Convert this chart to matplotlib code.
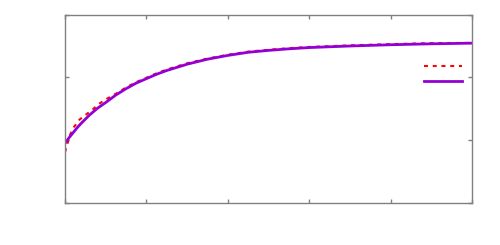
import matplotlib
matplotlib.use('Agg')
import matplotlib.pyplot as plt
from matplotlib.lines import Line2D

# Data
x_fit = [0, 0.05, 0.1, 0.15, 0.2, 0.3, 0.4, 0.5, 0.625, 0.75, 0.875, 1.0,
         1.125, 1.25, 1.5, 1.75, 2.0, 2.25, 2.5, 2.75, 3.0, 3.5, 4.0, 4.5, 5.0]
y_fit = [0.95, 1.04, 1.12, 1.20, 1.27, 1.40, 1.51, 1.60, 1.72, 1.82, 1.91,
         1.98, 2.05, 2.11, 2.21, 2.29, 2.35, 2.40, 2.43, 2.455, 2.475, 2.50,
         2.52, 2.535, 2.545]

x_dat = [0, 0.06, 0.11, 0.18, 0.26, 0.34, 0.42, 0.5, 0.625, 0.75, 0.875,
         1.0, 1.125, 1.25, 1.5, 1.75, 2.0, 2.25, 2.5, 2.75, 3.0, 3.5, 4.0,
         4.5, 5.0]
y_dat = [0.81, 1.08, 1.21, 1.33, 1.41, 1.49, 1.58, 1.65, 1.74, 1.84, 1.925,
         1.995, 2.065, 2.125, 2.225, 2.30, 2.36, 2.41, 2.44, 2.465, 2.485,
         2.51, 2.53, 2.545, 2.55]

x_ticks = [0, 1, 2, 3, 4, 5]
y_ticks = [0, 1, 2, 3]

red = '#ff0000'
violet = '#9400d3'

fig = plt.figure(figsize=(5, 2.45), dpi=100)
ax = fig.add_axes([0.13, 0.1714, 0.814, 0.769])

ax.plot(x_dat, y_dat, color=red, lw=1.5, dashes=(1.9, 2.3))
ax.plot(x_fit, y_fit, color=violet, lw=2)

ax.set_xlim(0, 5)
ax.set_ylim(0, 3)
ax.set_xticks(x_ticks)
ax.set_yticks(y_ticks)
ax.tick_params(direction='in', length=3, width=1, color='#808080',
               top=True, right=True, labelbottom=False, labelleft=False)
for s in ax.spines.values():
    s.set_color('#808080')
    s.set_linewidth(1)

handles = [Line2D([], [], color=red, lw=1.5, dashes=(1.9, 2.3)),
           Line2D([], [], color=violet, lw=2)]
ax.legend(handles, ['', ''], loc='upper right', bbox_to_anchor=(0.975, 0.762),
          frameon=False, handlelength=2.75, handletextpad=0, borderpad=0,
          labelspacing=0.1, borderaxespad=0)

fig.savefig('out.png', dpi=100)
